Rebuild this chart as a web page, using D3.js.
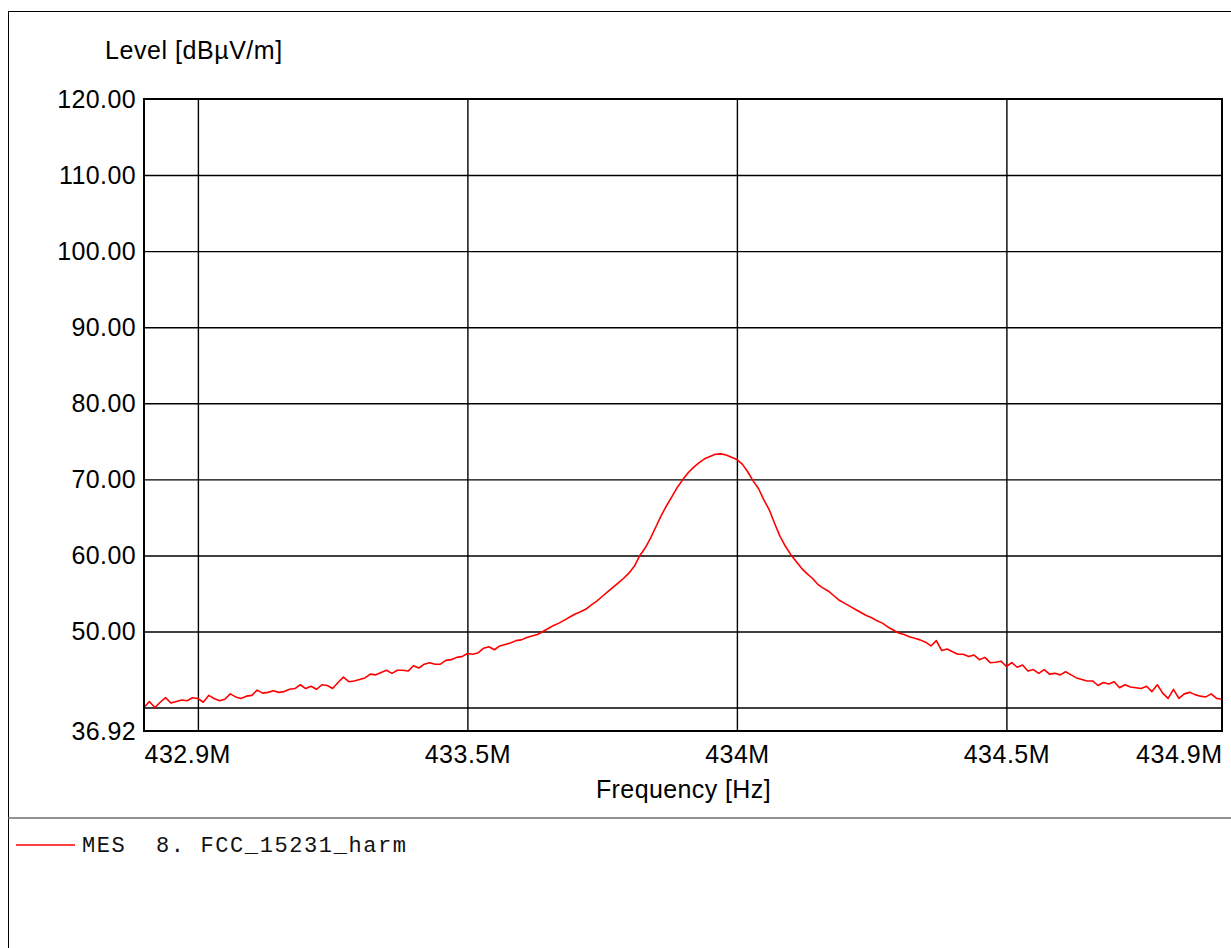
<!DOCTYPE html>
<html>
<head>
<meta charset="utf-8">
<script src="https://cdn.jsdelivr.net/npm/d3@7"></script>
<style>
  html, body { margin: 0; padding: 0; background: #fff; }
  svg { display: block; }
</style>
</head>
<body>
<svg id="chart" width="1231" height="948"></svg>
<script>
// Sweep frequencies (MHz)
const freqMHz = [
  432.90,432.91,432.92,432.93,432.94,432.95,432.96,432.97,432.98,432.99,
  433.00,433.01,433.02,433.03,433.04,433.05,433.06,433.07,433.08,433.09,
  433.10,433.11,433.12,433.13,433.14,433.15,433.16,433.17,433.18,433.19,
  433.20,433.21,433.22,433.23,433.24,433.25,433.26,433.27,433.28,433.29,
  433.30,433.31,433.32,433.33,433.34,433.35,433.36,433.37,433.38,433.39,
  433.40,433.41,433.42,433.43,433.44,433.45,433.46,433.47,433.48,433.49,
  433.50,433.51,433.52,433.53,433.54,433.55,433.56,433.57,433.58,433.59,
  433.60,433.61,433.62,433.63,433.64,433.65,433.66,433.67,433.68,433.69,
  433.70,433.71,433.72,433.73,433.74,433.75,433.76,433.77,433.78,433.79,
  433.80,433.81,433.82,433.83,433.84,433.85,433.86,433.87,433.88,433.89,
  433.90,433.91,433.92,433.93,433.94,433.95,433.96,433.97,433.98,433.99,
  434.00,434.01,434.02,434.03,434.04,434.05,434.06,434.07,434.08,434.09,
  434.10,434.11,434.12,434.13,434.14,434.15,434.16,434.17,434.18,434.19,
  434.20,434.21,434.22,434.23,434.24,434.25,434.26,434.27,434.28,434.29,
  434.30,434.31,434.32,434.33,434.34,434.35,434.36,434.37,434.38,434.39,
  434.40,434.41,434.42,434.43,434.44,434.45,434.46,434.47,434.48,434.49,
  434.50,434.51,434.52,434.53,434.54,434.55,434.56,434.57,434.58,434.59,
  434.60,434.61,434.62,434.63,434.64,434.65,434.66,434.67,434.68,434.69,
  434.70,434.71,434.72,434.73,434.74,434.75,434.76,434.77,434.78,434.79,
  434.80,434.81,434.82,434.83,434.84,434.85,434.86,434.87,434.88,434.89,
  434.90
];

const levelDb = [
  40.0,40.8,40.0,40.7,41.3,40.6,40.8,41.0,40.9,41.3,
  41.2,40.7,41.6,41.2,40.9,41.1,41.8,41.4,41.2,41.5,
  41.6,42.3,41.9,42.0,42.2,42.0,42.1,42.4,42.5,43.0,
  42.5,42.8,42.4,43.0,42.9,42.5,43.3,44.0,43.4,43.5,
  43.7,43.9,44.4,44.3,44.6,44.9,44.5,44.9,44.9,44.8,
  45.5,45.2,45.7,45.9,45.7,45.7,46.2,46.3,46.6,46.7,
  47.1,47.0,47.2,47.8,48.0,47.6,48.1,48.3,48.5,48.8,
  48.9,49.2,49.4,49.6,50.0,50.4,50.8,51.1,51.5,51.9,
  52.3,52.6,52.95,53.5,54.0,54.6,55.2,55.8,56.4,57.0,
  57.7,58.6,60.0,61.0,62.3,63.8,65.3,66.6,67.8,69.0,
  70.0,70.9,71.6,72.2,72.7,73.0,73.3,73.35,73.2,72.9,
  72.6,72.0,71.0,69.8,68.8,67.3,66.0,64.2,62.5,61.2,
  60.1,59.2,58.3,57.6,57.0,56.2,55.7,55.3,54.7,54.1,
  53.7,53.3,52.9,52.5,52.1,51.8,51.4,51.1,50.6,50.2,
  49.8,49.6,49.3,49.1,48.9,48.6,48.1,48.8,47.5,47.7,
  47.35,47.0,47.0,46.7,46.9,46.3,46.6,45.9,45.95,46.1,
  45.4,45.9,45.3,45.6,44.8,45.0,44.5,45.0,44.4,44.5,
  44.3,44.7,44.3,43.9,43.7,43.5,43.5,42.9,43.3,43.1,
  43.4,42.6,43.0,42.7,42.6,42.5,42.8,42.1,43.0,41.9,
  41.2,42.4,41.2,41.8,42.0,41.7,41.5,41.4,41.8,41.2,
  41.1
];

const xDomain = [432.9, 434.9];
const yDomain = [36.92, 120];
const xGridTicks = [433, 433.5, 434, 434.5];
const xLabelTicks = [432.9, 433.5, 434, 434.5, 434.9];
const xLabelText = ["432.9M", "433.5M", "434M", "434.5M", "434.9M"];
const yGridTicks = [40, 50, 60, 70, 80, 90, 100, 110];
const yLabelTicks = [36.92, 50, 60, 70, 80, 90, 100, 110, 120];
const yTitle = "Level [dBµV/m]";
const xTitle = "Frequency [Hz]";
const legendLabel = "MES  8. FCC_15231_harm";

const FONT = "'Liberation Sans', Arial, Helvetica, sans-serif";
const svg = d3.select("#chart");
const L = 144, R = 1222, T = 99, B = 731;

const x = d3.scaleLinear().domain(xDomain).range([L, R]);
const y = d3.scaleLinear().domain(yDomain).range([B, T]);

// page background
svg.append("rect").attr("width", 1231).attr("height", 948).attr("fill", "#fff");

// outer frame (left + top visible)
svg.append("rect")
  .attr("x", 8.5).attr("y", 11.5).attr("width", 1300).attr("height", 1000)
  .attr("fill", "none").attr("stroke", "#000").attr("stroke-width", 1);

// legend separator
svg.append("line")
  .attr("x1", 8).attr("x2", 1231).attr("y1", 818).attr("y2", 818)
  .attr("stroke", "#6e6e6e").attr("stroke-width", 1.5);

// gridlines
const gx = svg.append("g").attr("transform", `translate(0,${B})`)
  .call(d3.axisBottom(x).tickValues(xGridTicks).tickSize(-(B - T)).tickFormat(""));
gx.select(".domain").remove();
gx.selectAll("line").attr("stroke", "#000").attr("stroke-width", 1.4);

const gy = svg.append("g").attr("transform", `translate(${L},0)`)
  .call(d3.axisLeft(y).tickValues(yGridTicks).tickSize(-(R - L)).tickFormat(""));
gy.select(".domain").remove();
gy.selectAll("line").attr("stroke", "#000").attr("stroke-width", 1.4);

// trace
const line = d3.line()
  .x((d, i) => x(freqMHz[i]))
  .y(d => y(d));
svg.append("path")
  .datum(levelDb)
  .attr("d", line)
  .attr("fill", "none")
  .attr("stroke", "#ff0000")
  .attr("stroke-width", 1.6)
  .attr("stroke-linejoin", "round");

// plot frame
svg.append("rect")
  .attr("x", L).attr("y", T).attr("width", R - L).attr("height", B - T)
  .attr("fill", "none").attr("stroke", "#000").attr("stroke-width", 2);

// y tick labels
const ya = svg.append("g").attr("transform", `translate(${L},0)`)
  .call(d3.axisLeft(y).tickValues(yLabelTicks).tickSize(0).tickPadding(8)
    .tickFormat(d3.format(".2f")));
ya.select(".domain").remove();
ya.selectAll("text").attr("font-family", FONT).attr("font-size", 25)
  .attr("letter-spacing", 0.4).attr("fill", "#000");

// x tick labels
const xa = svg.append("g").attr("transform", `translate(0,${B})`)
  .call(d3.axisBottom(x).tickValues(xLabelTicks).tickSize(0).tickPadding(14)
    .tickFormat((d, i) => xLabelText[i]));
xa.select(".domain").remove();
xa.selectAll("text").attr("font-family", FONT).attr("font-size", 25)
  .attr("letter-spacing", 0.5).attr("fill", "#000")
  .attr("text-anchor", (d, i) => i === 0 ? "start" : (i === xLabelTicks.length - 1 ? "end" : "middle"));

// axis titles
svg.append("text").attr("x", 105).attr("y", 59)
  .attr("font-family", FONT).attr("font-size", 25).attr("letter-spacing", 0.55).text(yTitle);
svg.append("text").attr("x", 683.5).attr("y", 798).attr("text-anchor", "middle")
  .attr("font-family", FONT).attr("font-size", 25).attr("letter-spacing", 0.4).text(xTitle);

// legend
svg.append("line").attr("x1", 16).attr("x2", 75).attr("y1", 845).attr("y2", 845)
  .attr("stroke", "#ff0000").attr("stroke-width", 1.3);
svg.append("text").attr("x", 82).attr("y", 852)
  .attr("font-family", "'Courier New', 'Liberation Mono', monospace")
  .attr("font-size", 22).attr("letter-spacing", 1.6)
  .attr("xml:space", "preserve").style("white-space", "pre")
  .attr("fill", "#111").text(legendLabel);
</script>
</body>
</html>
